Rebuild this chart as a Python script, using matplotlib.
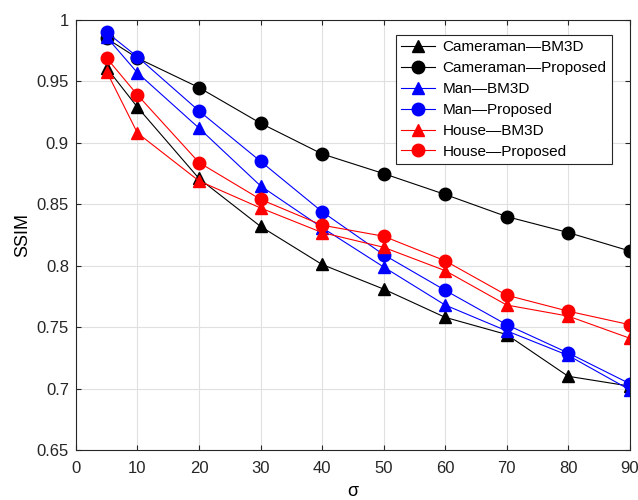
import matplotlib.pyplot as plt

plt.rcParams['font.family'] = ['Liberation Sans', 'DejaVu Sans']

sigma = [5, 10, 20, 30, 40, 50, 60, 70, 80, 90]
cam_bm3d = [0.961, 0.929, 0.871, 0.832, 0.801, 0.781, 0.758, 0.744, 0.710, 0.702]
cam_prop = [0.985, 0.969, 0.945, 0.916, 0.891, 0.875, 0.858, 0.840, 0.827, 0.812]
man_bm3d = [0.986, 0.957, 0.912, 0.865, 0.831, 0.799, 0.768, 0.747, 0.727, 0.699]
man_prop = [0.990, 0.970, 0.926, 0.885, 0.844, 0.809, 0.780, 0.752, 0.729, 0.704]
house_bm3d = [0.958, 0.908, 0.869, 0.847, 0.827, 0.815, 0.796, 0.768, 0.759, 0.741]
house_prop = [0.969, 0.939, 0.884, 0.854, 0.833, 0.824, 0.804, 0.776, 0.763, 0.752]

fig = plt.figure(figsize=(6.38, 5), dpi=100)
ax = fig.add_axes([0.119, 0.1, 0.868, 0.86])

series = [
    (cam_bm3d, 'k', '^', 'Cameraman\u2014BM3D'),
    (cam_prop, 'k', 'o', 'Cameraman\u2014Proposed'),
    (man_bm3d, 'b', '^', 'Man\u2014BM3D'),
    (man_prop, 'b', 'o', 'Man\u2014Proposed'),
    (house_bm3d, 'r', '^', 'House\u2014BM3D'),
    (house_prop, 'r', 'o', 'House\u2014Proposed'),
]
for vals, c, m, lab in series:
    ax.plot(sigma, vals, color=c, marker=m, markersize=9, linewidth=0.8, label=lab)

ax.set_xlim(0, 90)
ax.set_ylim(0.65, 1.0)
ax.set_xticks(range(0, 91, 10))
ax.set_yticks([0.65, 0.7, 0.75, 0.8, 0.85, 0.9, 0.95, 1.0])
ax.set_yticklabels(['0.65', '0.7', '0.75', '0.8', '0.85', '0.9', '0.95', '1'])
ax.grid(True, color='#e0e0e0', linewidth=0.8)
ax.tick_params(direction='in', labelsize=12, colors='#262626', top=True, right=True,
               labeltop=False, labelright=False)
ax.tick_params(axis='x', pad=8)
ax.tick_params(axis='y', pad=5)
for s in ax.spines.values():
    s.set_color('#262626')
ax.set_xlabel('σ', fontsize=13, labelpad=5)
ax.set_ylabel('SSIM', fontsize=13)

leg = ax.legend(loc='upper right', bbox_to_anchor=(0.9675, 0.965), fontsize=11,
                fancybox=False, edgecolor='#262626', framealpha=1, borderaxespad=0,
                handlelength=2.2, labelspacing=0.45, borderpad=0.35, handletextpad=0.5)
leg.get_frame().set_linewidth(0.8)

fig.savefig('out.png', dpi=100)
